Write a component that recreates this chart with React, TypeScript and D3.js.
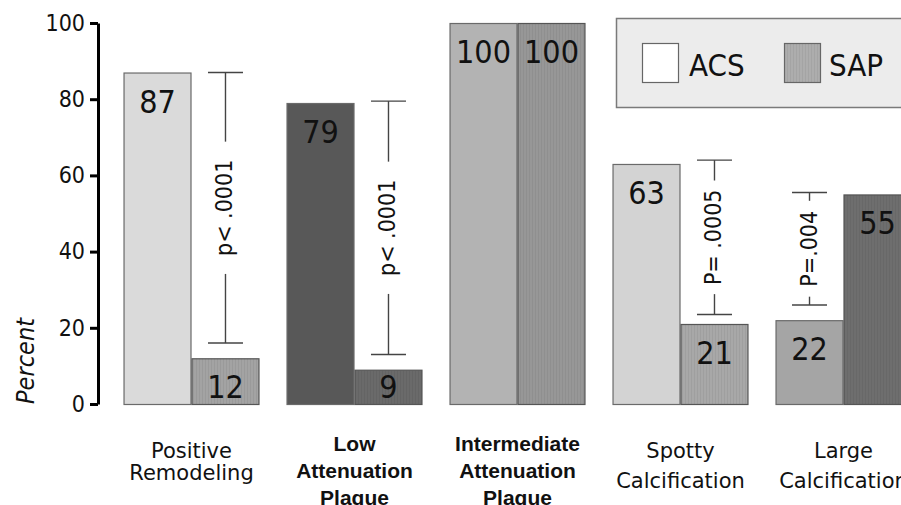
import React, { useEffect, useRef } from "react";
import * as d3 from "d3";

// ---- data ----
const categoryLines: string[][] = [
  ["Positive", "Remodeling"],
  ["Low", "Attenuation", "Plaque"],
  ["Intermediate", "Attenuation", "Plaque"],
  ["Spotty", "Calcification"],
  ["Large", "Calcification"],
];
const categoryIds = ["PR", "LAP", "IAP", "SC", "LC"];
const acsValues = [87, 79, 100, 63, 22];
const sapValues = [12, 9, 100, 21, 55];
const yTicks = [0, 20, 40, 60, 80, 100];
const seriesNames = ["ACS", "SAP"];

const pCategory = ["PR", "LAP", "SC", "LC"];
const pSeries = ["SAP", "SAP", "SAP", "ACS"];
const pTop = [87, 79.5, 64, 55.5];
const pBottom = [16, 13, 23.5, 26];
const pLabels = ["p< .0001", "p< .0001", "P= .0005", "P=.004"];

// ---- styles ----
const acsColors = ["#dadada", "#585858", "#b3b3b3", "#d3d3d3", "#a5a5a5"];
const sapColors = ["#a3a3a3", "#6a6a6a", "#979797", "#a8a8a8", "#6e6e6e"];
const boldLabel = [false, true, true, false, false];
const labelLineGap = [22, 27, 27, 30, 30];
const pGaps = [18, 18, 9, 10];

const W = 901;
const H = 505;
const SANS = "'DejaVu Sans', sans-serif";
const COND = "'DejaVu Sans Condensed', 'DejaVu Sans', sans-serif";

export default function App() {
  const ref = useRef<SVGSVGElement | null>(null);

  useEffect(() => {
    const svg = d3.select(ref.current!);
    svg.selectAll("*").remove();

    const x = d3
      .scaleBand<string>()
      .domain(categoryIds)
      .range([110, 925])
      .paddingInner(0.166)
      .paddingOuter(0.083);
    const sub = d3.scaleBand<string>().domain(seriesNames).range([0, x.bandwidth()]);
    const y = d3.scaleLinear().domain([0, 100]).range([404, 23]);

    const defs = svg.append("defs");
    const mkPattern = (id: string, color: string) => {
      const p = defs
        .append("pattern")
        .attr("id", id)
        .attr("patternUnits", "userSpaceOnUse")
        .attr("width", 3)
        .attr("height", 4);
      p.append("rect").attr("width", 3).attr("height", 4).attr("fill", color);
      p.append("rect").attr("x", 1).attr("width", 1).attr("height", 4).attr("fill", "rgba(0,0,0,0.055)");
    };
    sapColors.forEach((c, i) => mkPattern(`sap${i}`, c));
    mkPattern("sapLegend", "#adadad");

    // legend
    const lg = svg.append("g");
    lg.append("rect")
      .attr("x", 616.5)
      .attr("y", 18.5)
      .attr("width", 300)
      .attr("height", 89)
      .attr("fill", "#ececec")
      .attr("stroke", "#7a7a7a")
      .attr("stroke-width", 1.5);
    lg.append("rect")
      .attr("x", 642.5)
      .attr("y", 43.5)
      .attr("width", 36)
      .attr("height", 39)
      .attr("fill", "#ffffff")
      .attr("stroke", "#666")
      .attr("stroke-width", 1.2);
    lg.append("rect")
      .attr("x", 784.5)
      .attr("y", 43.5)
      .attr("width", 36)
      .attr("height", 39)
      .attr("fill", "url(#sapLegend)")
      .attr("stroke", "#666")
      .attr("stroke-width", 1.2);
    lg.append("text")
      .attr("x", 689)
      .attr("y", 76)
      .attr("font-family", COND)
      .attr("font-size", 31)
      .attr("fill", "#111")
      .text(seriesNames[0]);
    lg.append("text")
      .attr("x", 829)
      .attr("y", 76)
      .attr("font-family", COND)
      .attr("font-size", 31)
      .attr("fill", "#111")
      .text(seriesNames[1]);

    // bars
    const g = svg.append("g");
    categoryIds.forEach((cid, i) => {
      const x0 = x(cid)!;
      const vals = [acsValues[i], sapValues[i]];
      vals.forEach((v, s) => {
        const bx = x0 + sub(seriesNames[s])!;
        g.append("rect")
          .attr("x", bx + 0.5)
          .attr("y", y(v) + 0.5)
          .attr("width", sub.bandwidth() - 1)
          .attr("height", y(0) - y(v))
          .attr("fill", s === 0 ? acsColors[i] : `url(#sap${i})`)
          .attr("stroke", s === 0 ? "#6a6a6a" : "#555")
          .attr("stroke-width", 1.2);
        g.append("text")
          .attr("x", bx + sub.bandwidth() / 2)
          .attr("y", Math.min(y(v) + 40, y(0) - 6))
          .attr("text-anchor", "middle")
          .attr("font-family", COND)
          .attr("font-size", 32)
          .attr("fill", "#111")
          .text(String(v));
      });

      // category labels
      const cx = x0 + x.bandwidth() / 2;
      const t = svg
        .append("text")
        .attr("text-anchor", "middle")
        .attr("font-family", boldLabel[i] ? "'Liberation Sans', Arial, sans-serif" : SANS)
        .attr("font-weight", boldLabel[i] ? "bold" : "normal")
        .attr("font-size", 21)
        .attr("fill", "#111");
      const baseY = boldLabel[i] ? 451 : 458;
      categoryLines[i].forEach((line, k) => {
        t.append("tspan")
          .attr("x", cx)
          .attr("y", baseY + k * labelLineGap[i])
          .text(line);
      });
    });

    // p-value brackets
    const pg = svg.append("g");
    pCategory.forEach((cid, j) => {
      const bx = x(cid)! + sub(pSeries[j])! + sub.bandwidth() / 2;
      const yt = y(pTop[j]);
      const yb = y(pBottom[j]);
      const ym = (yt + yb) / 2;
      const txt = pg
        .append("text")
        .attr("transform", `translate(${bx + 7},${ym}) rotate(-90)`)
        .attr("text-anchor", "middle")
        .attr("font-family", COND)
        .attr("font-size", 23)
        .attr("fill", "#111")
        .text(pLabels[j]);
      const len = (txt.node() as SVGTextElement).getComputedTextLength();
      const half = len / 2 + pGaps[j];
      const cap = 17.5;
      pg.append("line").attr("x1", bx - cap).attr("x2", bx + cap).attr("y1", yt).attr("y2", yt);
      pg.append("line").attr("x1", bx - cap).attr("x2", bx + cap).attr("y1", yb).attr("y2", yb);
      pg.append("line").attr("x1", bx).attr("x2", bx).attr("y1", yt).attr("y2", ym - half);
      pg.append("line").attr("x1", bx).attr("x2", bx).attr("y1", ym + half).attr("y2", yb);
    });
    pg.selectAll("line").attr("stroke", "#444").attr("stroke-width", 1.4);

    // y axis
    const ax = svg
      .append("g")
      .attr("transform", "translate(98,0)")
      .call(d3.axisLeft(y).tickValues(yTicks).tickSize(8).tickSizeOuter(0).tickPadding(5));
    ax.select(".domain").attr("stroke", "#000").attr("stroke-width", 3);
    ax.selectAll(".tick line").attr("stroke", "#000").attr("stroke-width", 3);
    ax.selectAll(".tick text")
      .attr("font-family", COND)
      .attr("font-size", 23)
      .attr("fill", "#111");

    svg
      .append("text")
      .attr("transform", `translate(34,361) rotate(-90)`)
      .attr("text-anchor", "middle")
      .attr("font-family", COND)
      .attr("font-style", "italic")
      .attr("font-size", 25)
      .attr("fill", "#111")
      .text("Percent");
  }, []);

  return (
    <svg
      ref={ref}
      width={W}
      height={H}
      style={{ position: "absolute", left: 0, top: 0, background: "#fff" }}
    />
  );
}
